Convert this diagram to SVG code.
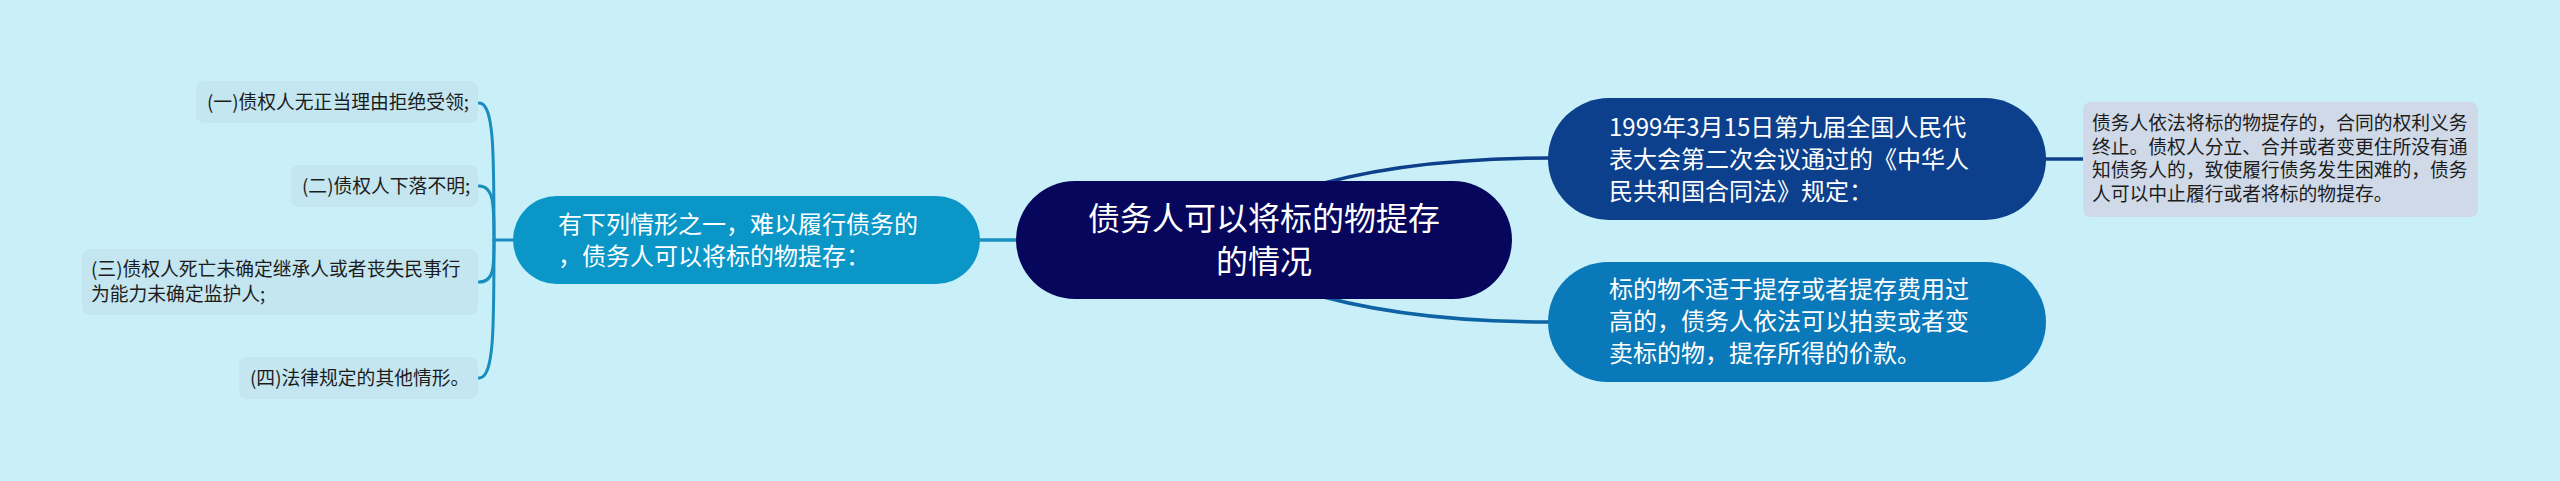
<svg xmlns="http://www.w3.org/2000/svg" width="2560" height="481" viewBox="0 0 2560 481">
<style>
text{font-family:"Noto Sans CJK SC","Noto Sans",sans-serif;}
.w{fill:#ffffff;font-size:24px;}
.c{fill:#ffffff;font-size:32px;text-anchor:middle;}
.d{fill:#1c1c1c;font-size:18.8px;}
.leaf{fill:#c3e6f0;}
.lc{fill:none;stroke:#1a8dc0;stroke-width:3;stroke-linecap:round;}
</style>
<rect x="0" y="0" width="2560" height="481" fill="#c9eff8"/>
<g id="connectors">
<path class="lc" d="M494 240 C494 151 494 103 479 103"/>
<path class="lc" d="M494 240 C494 205 494 186 479 186"/>
<path class="lc" d="M494 240 C494 268 494 282 479 282"/>
<path class="lc" d="M494 240 C494 330 494 378 479 378"/>
<path class="lc" d="M494 240 L514 240"/>
<path d="M978 240 L1018 240" fill="none" stroke="#1a92c2" stroke-width="3.5"/>
<path d="M1300 190 Q1400 158 1550 158" fill="none" stroke="#0d3f8b" stroke-width="3.5"/>
<path d="M1300 290 Q1400 322 1550 322" fill="none" stroke="#0d63a4" stroke-width="3.5"/>
<path d="M2044 159 L2085 159" fill="none" stroke="#0d3f8b" stroke-width="3.5"/>
</g>
<g id="center">
<rect x="1016" y="181" width="496" height="118" rx="59" fill="#06065c"/>
<text class="c" x="1264" y="230">债务人可以将标的物提存</text>
<text class="c" x="1264" y="273">的情况</text>
</g>
<g id="left-main">
<rect x="513" y="196" width="467" height="88" rx="44" fill="#0a97c8"/>
<text class="w" x="558" y="233">有下列情形之一，难以履行债务的</text>
<text class="w" x="558" y="265">，债务人可以将标的物提存：</text>
</g>
<g id="leaf1">
<rect class="leaf" x="196" y="81" width="282" height="42" rx="8"/>
<text class="d" x="207" y="108.6">(一)债权人无正当理由拒绝受领;</text>
</g>
<g id="leaf2">
<rect class="leaf" x="291" y="165" width="187" height="42" rx="8"/>
<text class="d" x="302" y="192.6">(二)债权人下落不明;</text>
</g>
<g id="leaf3">
<rect class="leaf" x="82" y="249" width="396" height="66" rx="8"/>
<text class="d" x="91" y="276">(三)债权人死亡未确定继承人或者丧失民事行</text>
<text class="d" x="91" y="301">为能力未确定监护人;</text>
</g>
<g id="leaf4">
<rect class="leaf" x="239" y="357" width="239" height="42" rx="8"/>
<text class="d" x="250" y="384.6">(四)法律规定的其他情形。</text>
</g>
<g id="right-top">
<rect x="1548" y="98" width="498" height="122" rx="61" fill="#0c408c"/>
<text class="w" x="1609" y="136">1999年3月15日第九届全国人民代</text>
<text class="w" x="1609" y="168">表大会第二次会议通过的《中华人</text>
<text class="w" x="1609" y="200">民共和国合同法》规定：</text>
</g>
<g id="right-bottom">
<rect x="1548" y="262" width="498" height="120" rx="60" fill="#0a79b9"/>
<text class="w" x="1609" y="298">标的物不适于提存或者提存费用过</text>
<text class="w" x="1609" y="330">高的，债务人依法可以拍卖或者变</text>
<text class="w" x="1609" y="362">卖标的物，提存所得的价款。</text>
</g>
<g id="detail">
<rect x="2083" y="102" width="395" height="115" rx="8" fill="#cfd9e7"/>
<text class="d" x="2092" y="130">债务人依法将标的物提存的，合同的权利义务</text>
<text class="d" x="2092" y="153.7">终止。债权人分立、合并或者变更住所没有通</text>
<text class="d" x="2092" y="177.4">知债务人的，致使履行债务发生困难的，债务</text>
<text class="d" x="2092" y="201.1">人可以中止履行或者将标的物提存。</text>
</g>
</svg>
